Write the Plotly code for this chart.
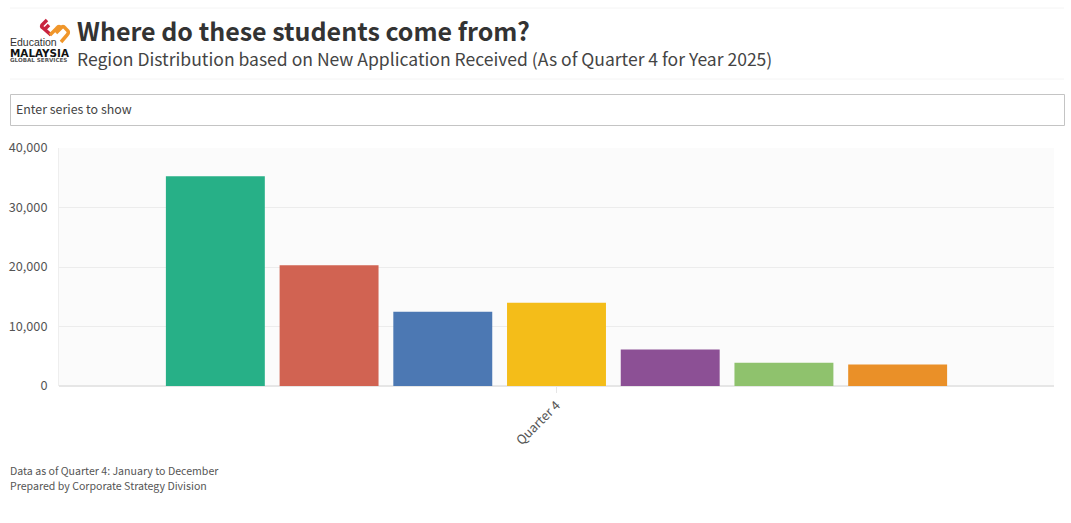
import plotly.graph_objects as go

# valores, 1 barra por regiao
quarter = ['Quarter 4']
series_1 = [35250]
series_2 = [20300]
series_3 = [12500]
series_4 = [14000]
series_5 = [6150]
series_6 = [3900]
series_7 = [3600]
y_ticks = [0, 10000, 20000, 30000, 40000]

series = [series_1, series_2, series_3, series_4, series_5, series_6, series_7]
cores = ['#27b087', '#d16352', '#4c78b3', '#f4bd19', '#8c5095', '#8fc26d', '#ea9028']
fonte = 'Noto Sans CJK SC'

L, R, T, B = 59, 1054, 148, 386


def px_x(x):
    return (x - L) / (R - L)


def px_y(y):
    return (B - y) / (B - T)


fig = go.Figure()
for i in range(len(series)):
    fig.add_trace(go.Bar(x=quarter, y=series[i], marker_color=cores[i], marker_line_width=0,
                         name='Series ' + str(i + 1), showlegend=False))


def texto(x, y, s, size, color, weight='normal', family=fonte):
    fig.add_annotation(xref='paper', yref='paper', x=px_x(x), y=px_y(y), text=s, showarrow=False,
                       xanchor='left', yanchor='middle', align='left', borderpad=0,
                       font=dict(family=family, size=size, color=color, weight=weight))


texto(76, 30, 'Where do these students come from?', 25, '#333333', 'bold')
texto(76, 58, 'Region Distribution based on New Application Received (As of Quarter 4 for Year 2025)', 17.55, '#444444')
texto(15, 109.5, 'Enter series to show', 12.4, '#444444')
texto(9, 470, 'Data as of Quarter 4: January to December', 10.6, '#555555')
texto(9, 485, 'Prepared by Corporate Strategy Division', 10.6, '#555555')

# logo
texto(9, 42, 'Education', 10.5, '#333333', family='Liberation Sans')
texto(9, 52.5, 'MALAYSIA', 10.4, '#111111', 'bold', 'DejaVu Sans')
texto(9, 59.5, 'GLOBAL SERVICES', 5.6, '#555555', 'bold', 'DejaVu Sans')


def risco(path, cor, largura=3.5):
    # path em pixels da imagem: pares x y depois de cada comando
    saida = []
    pares = path.split()
    for p in pares:
        if ',' in p:
            a, b = p.split(',')
            saida.append(f'{px_x(float(a)):.5f},{px_y(float(b)):.5f}')
        else:
            saida.append(p)
    fig.add_shape(type='path', path=' '.join(saida), xref='paper', yref='paper',
                  line=dict(color=cor, width=largura))


risco('M 47,20 L 42,25 Q 41,27 43,28 L 51,35 M 49,25 L 44,30', '#c8243f')
risco('M 50,35 L 57,28 Q 59,25 61,28 L 56,33 M 61,28 Q 63,25 65,28 L 68,31 Q 69,33 67,35 L 61,42', '#f0962a')

# linhas e caixa do cabecalho
fig.add_shape(type='line', xref='paper', yref='paper', x0=px_x(10), x1=px_x(1064), y0=px_y(8), y1=px_y(8),
              line=dict(color='#f4f4f4', width=1))
fig.add_shape(type='line', xref='paper', yref='paper', x0=px_x(10), x1=px_x(1064), y0=px_y(79), y1=px_y(79),
              line=dict(color='#f4f4f4', width=1))
fig.add_shape(type='rect', xref='paper', yref='paper', x0=px_x(10.5), x1=px_x(1064.5), y0=px_y(94.5), y1=px_y(125.5),
              line=dict(color='#c4c4c4', width=1), fillcolor='white')

fig.update_layout(
    width=1071, height=523,
    margin=dict(l=L, r=1071 - R, t=T, b=523 - B),
    barmode='group', bargap=0.2, bargroupgap=0.13,
    plot_bgcolor='#fbfbfb', paper_bgcolor='white',
    font=dict(family=fonte, size=12.7, color='#555555'),
    xaxis=dict(tickangle=-45, ticks='outside', ticklen=6, tickcolor='#e6e6e6', showgrid=False,
               showline=False, automargin=False, tickfont=dict(size=12.7, color='#555555')),
    yaxis=dict(range=[0, 40000], tickvals=y_ticks, tickformat=',', gridcolor='#ececec', zeroline=True,
               zerolinecolor='#e6e6e6', ticks='outside', ticklen=8, tickcolor='rgba(0,0,0,0)',
               showline=True, linecolor='#eeeeee', linewidth=1, automargin=False,
               tickfont=dict(size=12.7, color='#555555')),
)

fig.write_html('out.html', config={'displayModeBar': False}, post_script="document.body.style.margin='0';")
